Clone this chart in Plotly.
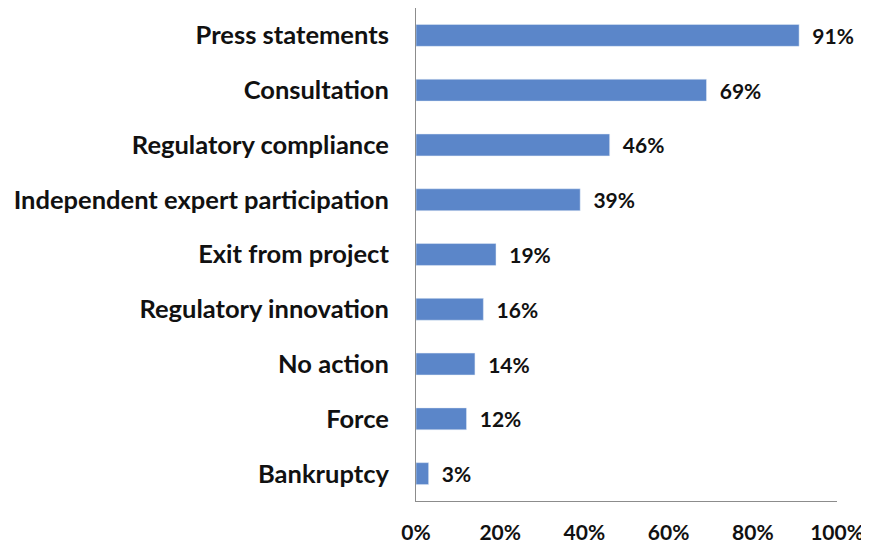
import plotly.graph_objects as go

categories = ['Press statements', 'Consultation', 'Regulatory compliance',
              'Independent expert participation', 'Exit from project',
              'Regulatory innovation', 'No action', 'Force', 'Bankruptcy']
values = [91, 69, 46, 39, 19, 16, 14, 12, 3]
tick_vals = [0, 20, 40, 60, 80, 100]
tick_text = ['0%', '20%', '40%', '60%', '80%', '100%']

fig = go.Figure(go.Bar(
    x=values,
    y=categories,
    orientation='h',
    marker_color='#5b86c9',
    width=0.4,
    text=[f'{v}%' for v in values],
    texttemplate='  %{text}',
    textposition='outside',
    constraintext='none',
    textfont=dict(family='Lato', size=21, color='#111111', weight='bold'),
    cliponaxis=False,
))

# page body adds ~8px offset, so the figure is a bit smaller than the window
fig.update_layout(
    width=861, height=538,
    margin=dict(l=408, r=32, t=0, b=45),
    plot_bgcolor='white', paper_bgcolor='white',
    showlegend=False,
    font=dict(family='Lato', color='#111111'),
)
fig.update_xaxes(
    range=[0, 100], tickvals=tick_vals, ticktext=tick_text,
    showgrid=False, zeroline=False, automargin=False,
    showline=True, linecolor='#8c8c8c', linewidth=1,
    ticks='', ticklabelstandoff=13, ticklabeloverflow='allow',
    tickfont=dict(family='Lato', size=21, weight='bold', color='#111111'),
)
fig.update_yaxes(
    categoryorder='array', categoryarray=categories[::-1],
    showgrid=False, zeroline=False, automargin=False,
    showline=True, linecolor='#8c8c8c', linewidth=1,
    ticks='', ticklabelstandoff=21,
    tickfont=dict(family='Lato', size=25.5, weight='bold', color='#111111'),
)

fig.write_html('out.html')
